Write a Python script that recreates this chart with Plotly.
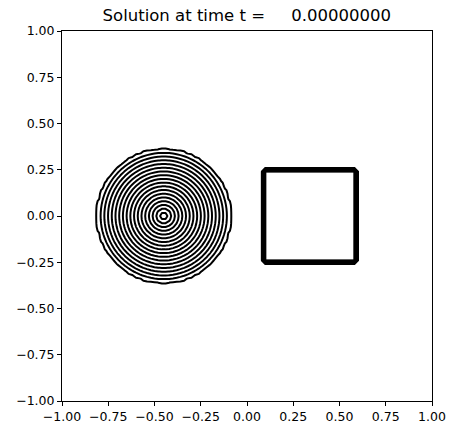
import numpy as np
import plotly.graph_objects as go

# initial condition of the solution: cone + square cylinder
grid_n = 101
x_range = [-1.0, 1.0]
y_range = [-1.0, 1.0]
cone_center = [-0.45, 0.0]
cone_radius = 0.365
cone_height = 1.0
square_x = [0.1, 0.6]
square_y = [-0.25, 0.25]
square_height = 1.0
level_start, level_end, level_step = 0.01, 0.99, 0.055
tick_vals = [-1.0, -0.75, -0.5, -0.25, 0.0, 0.25, 0.5, 0.75, 1.0]
tick_text = ["\u22121.00", "\u22120.75", "\u22120.50", "\u22120.25", "0.00", "0.25", "0.50", "0.75", "1.00"]
time_t = 0.0

xs = np.linspace(x_range[0], x_range[1], grid_n)
ys = np.linspace(y_range[0], y_range[1], grid_n)
X, Y = np.meshgrid(xs, ys)
r = np.sqrt((X - cone_center[0]) ** 2 + (Y - cone_center[1]) ** 2)
Z = np.clip(cone_height * (1 - r / cone_radius), 0, None)
in_sq = (X >= square_x[0]) & (X <= square_x[1]) & (Y >= square_y[0]) & (Y <= square_y[1])
Z[in_sq] = square_height

fig = go.Figure()
fig.add_trace(
    go.Contour(
        x=xs,
        y=ys,
        z=Z,
        contours=dict(coloring="lines", start=level_start, end=level_end, size=level_step),
        line=dict(width=2, color="black", smoothing=0),
        colorscale=[[0, "black"], [1, "black"]],
        showscale=False,
        hoverinfo="skip",
    )
)

axis_common = dict(
    tickvals=tick_vals,
    ticktext=tick_text,
    ticks="outside",
    ticklen=4,
    tickwidth=1,
    tickcolor="black",
    showline=True,
    linecolor="black",
    linewidth=1,
    mirror=True,
    showgrid=False,
    zeroline=False,
    automargin=False,
    tickfont=dict(family="DejaVu Sans", size=12.5, color="black"),
)

fig.update_layout(
    width=457,
    height=435,
    margin=dict(l=62, r=25, t=31, b=34),
    paper_bgcolor="white",
    plot_bgcolor="white",
    title=dict(
        text="Solution at time t =\u00a0\u00a0\u00a0\u00a0\u00a0%.8f" % time_t,
        x=0.54,
        xanchor="center",
        y=1 - 15 / 435,
        yanchor="middle",
        font=dict(family="DejaVu Sans", size=16.5, color="black"),
    ),
    xaxis=dict(range=x_range, **axis_common),
    yaxis=dict(range=y_range, **axis_common),
    showlegend=False,
)

# drop the default 8px page margin so the figure sits at the window corner
fig.write_html(
    "out.html",
    config={"displayModeBar": False},
    post_script="document.body.style.margin='0';",
)
